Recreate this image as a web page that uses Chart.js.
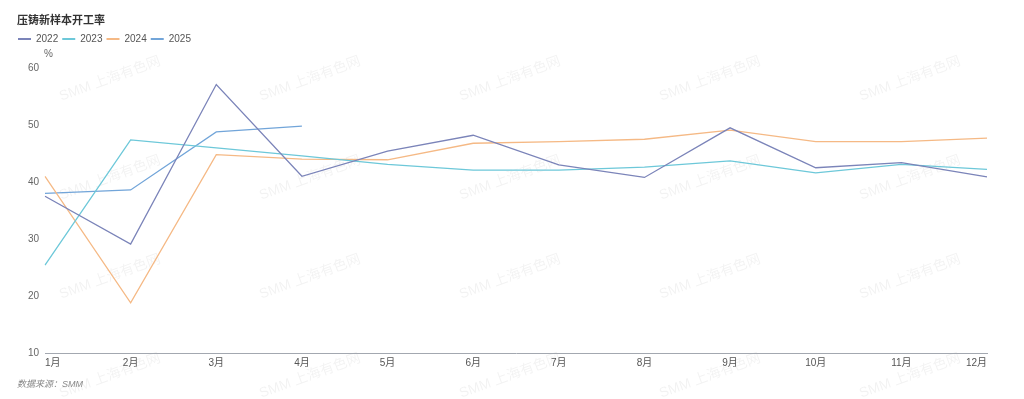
<!DOCTYPE html>
<html>
<head>
<meta charset="utf-8">
<style>
  html, body { margin: 0; padding: 0; background: #fff; }
  #wrap { position: relative; width: 1024px; height: 399px; }
  #title { position: absolute; left: 17px; top: 13px; font: bold 11px/13px "Noto Sans CJK SC", sans-serif; color: #333; }
  #source { position: absolute; left: 17px; top: 378px; font: italic 9px/12px "Liberation Sans", "Noto Sans CJK SC", sans-serif; color: #888; }
</style>
</head>
<body>
<div id="wrap">
  <canvas id="chart"></canvas>
  <div id="title">压铸新样本开工率</div>
  <div id="source">数据来源：SMM</div>
</div>

<script src="https://cdn.jsdelivr.net/npm/chart.js"></script>
<script>
  // 月份
  const months = ['1月', '2月', '3月', '4月', '5月', '6月', '7月', '8月', '9月', '10月', '11月', '12月'];
  const yMin = 10;
  const yMax = 60;
  const yStep = 10;

  // 开工率 (%)
  const rate2022 = [37.5, 29.1, 57.1, 41.0, 45.4, 48.2, 43.0, 40.8, 49.5, 42.5, 43.4, 40.9];
  const rate2023 = [25.4, 47.4, 46.0, 44.6, 43.1, 42.1, 42.1, 42.6, 43.7, 41.6, 43.1, 42.2];
  const rate2024 = [41.0, 18.8, 44.8, 44.0, 43.9, 46.8, 47.1, 47.5, 49.1, 47.1, 47.1, 47.7];
  const rate2025 = [38.0, 38.6, 48.8, 49.8];

  const FONT = '"Liberation Sans", "Noto Sans CJK SC", sans-serif';

  // 水印
  const watermark = {
    id: 'watermark',
    beforeDraw(chart) {
      const ctx = chart.ctx;
      ctx.save();
      ctx.fillStyle = 'rgba(0,0,0,0.05)';
      ctx.font = '14px ' + FONT;
      ctx.textAlign = 'center';
      ctx.textBaseline = 'middle';
      for (let r = 0; r < 4; r++) {
        for (let c = 0; c < 5; c++) {
          ctx.save();
          ctx.translate(110 + c * 200, 79 + r * 99);
          ctx.rotate(-20 * Math.PI / 180);
          ctx.fillText('SMM 上海有色网', 0, 0);
          ctx.restore();
        }
      }
      ctx.restore();
    }
  };

  // y轴单位
  const unitLabel = {
    id: 'unitLabel',
    afterDraw(chart) {
      const ctx = chart.ctx;
      ctx.save();
      ctx.fillStyle = '#666';
      ctx.font = '10px ' + FONT;
      ctx.textBaseline = 'middle';
      ctx.fillText('%', chart.chartArea.left - 1, chart.chartArea.top - 14);
      ctx.restore();
    }
  };

  // 图例下方留白
  const legendGap = {
    id: 'legendGap',
    beforeInit(chart) {
      const fit = chart.legend.fit;
      chart.legend.fit = function () {
        fit.bind(chart.legend)();
        this.height += 14;
      };
    }
  };

  function line(label, data, color) {
    return {
      label: label,
      data: data,
      borderColor: color,
      backgroundColor: color,
      borderWidth: 1.3,
      pointRadius: 0,
      tension: 0,
      fill: false
    };
  }

  new Chart(document.getElementById('chart').getContext('2d'), {
    type: 'line',
    data: {
      labels: months,
      datasets: [
        line('2022', rate2022, '#7b84b9'),
        line('2023', rate2023, '#6dc8d9'),
        line('2024', rate2024, '#f5b985'),
        line('2025', rate2025, '#72a5d9')
      ]
    },
    options: {
      responsive: true,
      maintainAspectRatio: false,
      animation: false,
      layout: { padding: { left: 14, right: 37, top: 30, bottom: 26 } },
      plugins: {
        tooltip: { enabled: false },
        legend: {
          align: 'start',
          labels: {
            usePointStyle: true,
            pointStyle: 'line',
            pointStyleWidth: 13,
            padding: 4,
            color: '#555',
            font: { size: 10, family: FONT },
            generateLabels: chart => Chart.defaults.plugins.legend.labels.generateLabels(chart)
              .map(l => Object.assign(l, { lineWidth: 2 }))
          }
        }
      },
      scales: {
        x: {
          offset: false,
          grid: { display: false, drawTicks: false },
          border: { display: true, color: '#a3a8b0', width: 1 },
          ticks: { align: 'inner', padding: 4, color: '#555', font: { size: 10, family: FONT }, maxRotation: 0 }
        },
        y: {
          min: yMin,
          max: yMax,
          grid: { display: false, drawTicks: false },
          border: { display: false },
          ticks: { stepSize: yStep, padding: 6, color: '#666', font: { size: 10, family: FONT } },
          afterFit(scale) { scale.width = 31; }
        }
      }
    },
    plugins: [watermark, unitLabel, legendGap]
  });
</script>
</body>
</html>
